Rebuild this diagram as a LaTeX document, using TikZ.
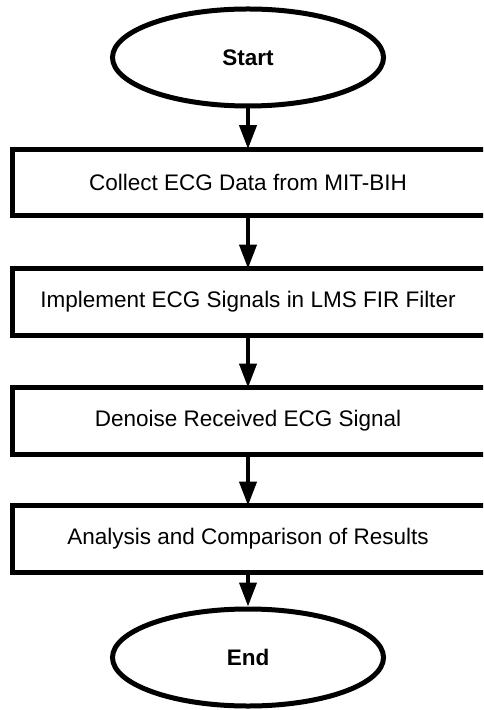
\documentclass[tikz,border=0pt]{standalone}
\usepackage{fontspec}
\setmainfont{Liberation Sans}
\usepackage{tikz}
\usetikzlibrary{positioning, arrows.meta, shapes.geometric}

\begin{document}
\begin{tikzpicture}[x=0.5pt, y=-0.5pt,
  font=\fontsize{11.25pt}{13pt}\selectfont,
  terminal/.style={ellipse, draw, line width=2.5pt, minimum width=135.5pt, minimum height=48.5pt, inner sep=0pt, font=\fontsize{11.25pt}{13pt}\selectfont\bfseries},
  stepbox/.style={minimum width=235.5pt, minimum height=33pt, inner sep=0pt},
  flow/.style={-{Triangle[length=12pt, width=8.5pt]}, line width=2pt}]
\useasboundingbox (0,0) rectangle (483,710);
\clip (0,0) rectangle (483,710);
\node[terminal] (start) at (248,57.5) {Start};
\node[stepbox] (collect) at (248,182.5) {Collect ECG Data from MIT-BIH};
\node[stepbox] (lms) at (248,302) {Implement ECG Signals in LMS FIR Filter};
\node[stepbox] (denoise) at (248,421) {Denoise Received ECG Signal};
\node[stepbox] (analysis) at (248,539) {Analysis and Comparison of Results};
\node[terminal] (end) at (248,657.5) {End};
% boxes run past the right edge
\foreach \b in {collect, lms, denoise, analysis}
  \draw[line width=2.5pt] (\b.north west) rectangle ([xshift=20pt]\b.south east);
\draw[flow] (start)--(collect);
\draw[flow] (collect)--(lms);
\draw[flow] (lms)--(denoise);
\draw[flow] (denoise)--(analysis);
\draw[flow] (analysis)--(end);
\end{tikzpicture}
\end{document}
